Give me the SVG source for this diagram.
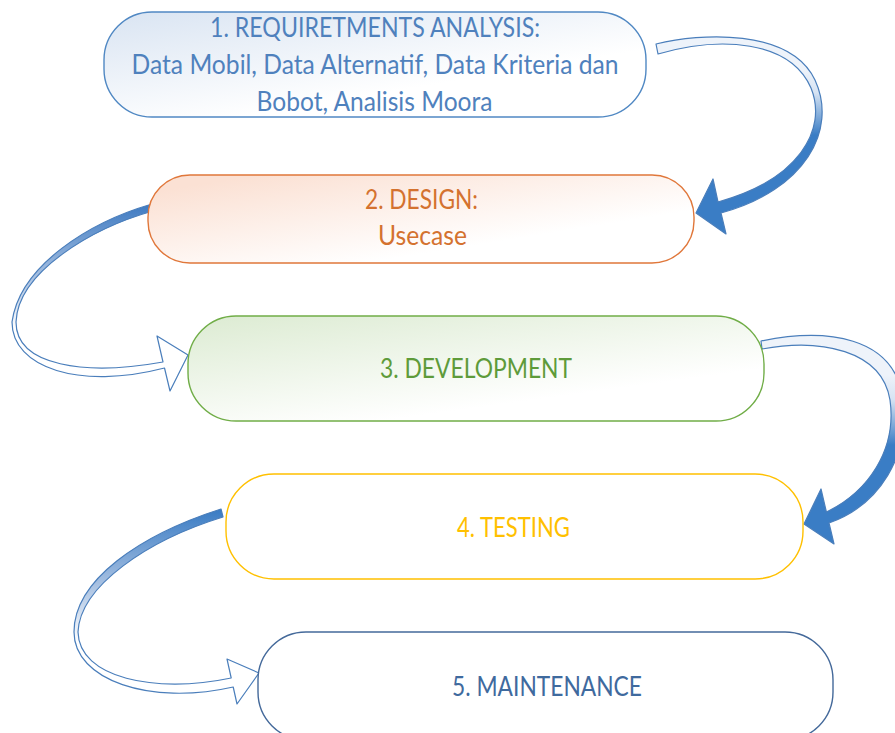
<svg xmlns="http://www.w3.org/2000/svg" width="895" height="733" viewBox="0 0 895 733">
<style>
.node{stroke-width:1.4}
.lbl{font-family:Lato,"Liberation Sans",sans-serif;font-size:27px}
.arrow{stroke:#4a7ebb;stroke-width:1.2;stroke-linejoin:round}
</style>
<defs>
<linearGradient id="g1" x1="0" y1="0" x2="0.6" y2="0.7"><stop offset="0" stop-color="#d9e4f2"/><stop offset="1" stop-color="#ffffff"/></linearGradient>
<linearGradient id="g2" x1="0" y1="0.2" x2="0.6" y2="0.8"><stop offset="0" stop-color="#fbe1d4"/><stop offset="1" stop-color="#ffffff"/></linearGradient>
<linearGradient id="g3" x1="0" y1="0" x2="0.6" y2="0.8"><stop offset="0" stop-color="#dcebd2"/><stop offset="1" stop-color="#ffffff"/></linearGradient>
<linearGradient id="a1" gradientUnits="userSpaceOnUse" x1="0" y1="70" x2="0" y2="135"><stop offset="0" stop-color="#eef3fa"/><stop offset="0.35" stop-color="#d6e3f3"/><stop offset="1" stop-color="#3a7dc5"/></linearGradient>
<linearGradient id="a3" gradientUnits="userSpaceOnUse" x1="0" y1="375" x2="0" y2="445"><stop offset="0" stop-color="#eef3fa"/><stop offset="0.35" stop-color="#d6e3f3"/><stop offset="1" stop-color="#3a7dc5"/></linearGradient>
<linearGradient id="a2" gradientUnits="userSpaceOnUse" x1="0" y1="205" x2="0" y2="350"><stop offset="0" stop-color="#3f7bc2"/><stop offset="0.5" stop-color="#a8c1e2"/><stop offset="0.85" stop-color="#ffffff"/></linearGradient>
<linearGradient id="a4" gradientUnits="userSpaceOnUse" x1="0" y1="510" x2="0" y2="660"><stop offset="0" stop-color="#3a7cc4"/><stop offset="0.5" stop-color="#a8c1e2"/><stop offset="0.88" stop-color="#ffffff"/></linearGradient>
</defs>
<rect width="895" height="733" fill="#ffffff"/>
<g id="connectors">
<path class="arrow" fill="url(#a1)" d="M 656,44 C 700,33 790,28 815,80 C 838,130 805,190 721,213 L 726,234 L 696,213 L 713,179 L 718,202 C 798,180 828,130 811,88 C 790,40 720,36 658,54 Z"/>
<path class="arrow" fill="url(#a2)" d="M 152,204 C 90,222 20,265 12,322 C 12,368 80,390 164.5,368 L 170,391 L 188,355 L 157,336 L 163,362 C 85,376 16,366 16,322 C 18,272 92,228 153,211 Z"/>
<path class="arrow" fill="url(#a3)" d="M 761,341 C 825,328 895,335 903,400 C 910,455 880,505 829,523 L 834,544 L 804,524 L 821,489 L 826.4,512 C 868,492 897,450 890,400 C 882,350 820,338 762,349 Z"/>
<path class="arrow" fill="url(#a4)" d="M 221,509 C 140,535 74,580 74,632 C 74,680 150,706 233.2,687 L 237,704 L 259,673 L 227,659 L 231.2,678 C 155,694 79,678 78,632 C 80,586 148,540 223,517 Z"/>
</g>
<g id="node1">
<rect class="node" x="104" y="12" width="542" height="105" rx="48" ry="48" fill="url(#g1)" stroke="#5088c3"/>
<text class="lbl" fill="#4f81bd" x="210" y="37" textLength="330" lengthAdjust="spacingAndGlyphs">1. REQUIRETMENTS ANALYSIS:</text>
<text class="lbl" fill="#4f81bd" x="131.5" y="73.5" textLength="487" lengthAdjust="spacingAndGlyphs">Data Mobil, Data Alternatif, Data Kriteria dan</text>
<text class="lbl" fill="#4f81bd" x="256.5" y="110.5" textLength="236" lengthAdjust="spacingAndGlyphs">Bobot, Analisis Moora</text>
</g>
<g id="node2">
<rect class="node" x="148" y="175" width="546" height="88" rx="42" ry="42" fill="url(#g2)" stroke="#e0773a"/>
<text class="lbl" fill="#d4722f" x="365" y="209" textLength="113" lengthAdjust="spacingAndGlyphs">2. DESIGN:</text>
<text class="lbl" fill="#d4722f" x="378" y="245" textLength="89" lengthAdjust="spacingAndGlyphs">Usecase</text>
</g>
<g id="node3">
<rect class="node" x="188" y="316" width="576" height="105" rx="48" ry="48" fill="url(#g3)" stroke="#70ad47"/>
<text class="lbl" fill="#5e9b3a" x="380" y="378" textLength="192" lengthAdjust="spacingAndGlyphs">3. DEVELOPMENT</text>
</g>
<g id="node4">
<rect class="node" x="226" y="474" width="577" height="105" rx="48" ry="48" fill="#ffffff" stroke="#ffc000"/>
<text class="lbl" fill="#ffc000" x="457" y="537" textLength="113" lengthAdjust="spacingAndGlyphs">4. TESTING</text>
</g>
<g id="node5">
<rect class="node" x="258" y="632" width="575" height="108" rx="48" ry="48" fill="#ffffff" stroke="#44699a"/>
<text class="lbl" fill="#3f6a9e" x="452" y="696" textLength="190" lengthAdjust="spacingAndGlyphs">5. MAINTENANCE</text>
</g>
</svg>
